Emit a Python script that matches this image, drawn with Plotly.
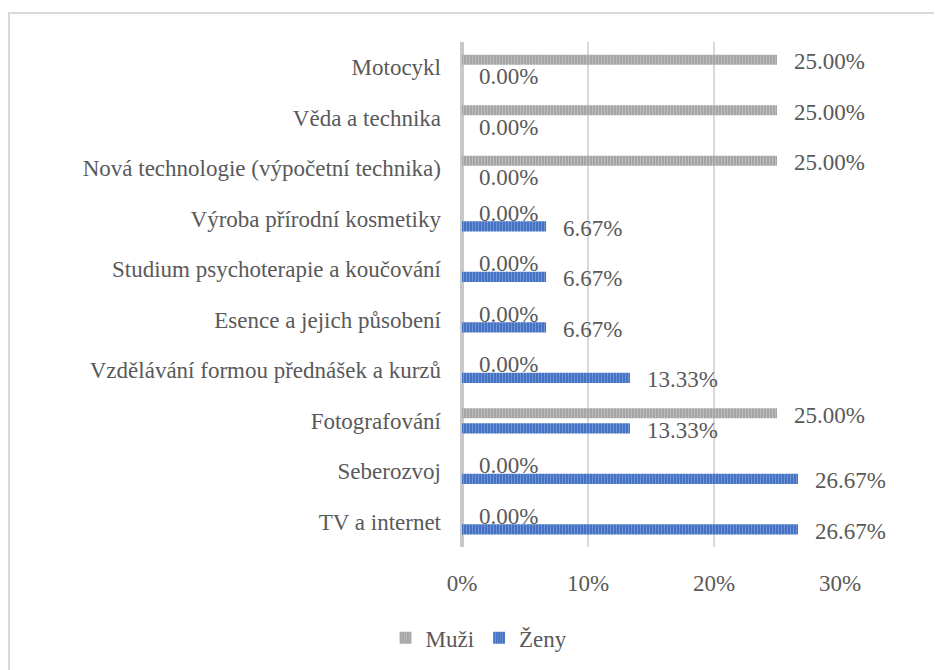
import plotly.graph_objects as go

categories = ["TV a internet", "Seberozvoj", "Fotografování",
              "Vzdělávání formou přednášek a kurzů", "Esence a jejich působení",
              "Studium psychoterapie a koučování", "Výroba přírodní kosmetiky",
              "Nová technologie (výpočetní technika)", "Věda a technika", "Motocykl"]
muzi = [0.00, 0.00, 25.00, 0.00, 0.00, 0.00, 0.00, 25.00, 25.00, 25.00]
zeny = [26.67, 26.67, 13.33, 13.33, 6.67, 6.67, 6.67, 0.00, 0.00, 0.00]
x_ticks = [0, 10, 20, 30]
x_tick_labels = ["0%", "10%", "20%", "30%"]

FONT = "Liberation Serif"
FS = 23
TXT = "#595959"
pos = list(range(len(categories)))

fig = go.Figure()
fig.add_trace(go.Bar(
    name="Muži", y=pos, x=muzi, orientation="h", width=0.2, offset=0.05,
    marker=dict(color="#A5A5A5", line=dict(width=0),
                pattern=dict(shape="|", fgcolor="#D6D6D6", bgcolor="#A5A5A5",
                             size=3, solidity=0.35)),
))
fig.add_trace(go.Bar(
    name="Ženy", y=pos, x=zeny, orientation="h", width=0.2, offset=-0.25,
    marker=dict(color="#4472C4", line=dict(width=0),
                pattern=dict(shape="|", fgcolor="#9BB3E0", bgcolor="#4472C4",
                             size=3, solidity=0.35)),
))

annotations = []
for i, (m, z) in enumerate(zip(muzi, zeny)):
    annotations.append(dict(x=m, y=i + 0.15, xref="x", yref="y", text=f"{m:.2f}%",
                            showarrow=False, xanchor="left", xshift=15, yshift=-2,
                            font=dict(family=FONT, size=FS, color=TXT)))
    annotations.append(dict(x=z, y=i - 0.15, xref="x", yref="y", text=f"{z:.2f}%",
                            showarrow=False, xanchor="left", xshift=15, yshift=-2,
                            font=dict(family=FONT, size=FS, color=TXT)))

# page has an 8px body margin; figure coordinates are page coordinates minus 8
fig.update_layout(
    width=934, height=662,
    margin=dict(l=454, r=102, t=34, b=122),
    paper_bgcolor="white", plot_bgcolor="white",
    barmode="overlay",
    font=dict(family=FONT, size=FS, color=TXT),
    annotations=annotations,
    showlegend=True,
    legend=dict(orientation="h", x=0.045, xanchor="center", y=-0.135, yanchor="top",
                font=dict(family=FONT, size=FS, color=TXT), itemwidth=30,
                traceorder="normal"),
    xaxis=dict(range=[0, 30], tickvals=x_ticks, ticktext=x_tick_labels,
               showgrid=True, gridcolor="#D9D9D9", gridwidth=2,
               zeroline=True, zerolinecolor="#C8C8C8", zerolinewidth=4,
               showline=False, ticklabelstandoff=20, fixedrange=True),
    yaxis=dict(range=[-0.5, 9.5], tickvals=pos, ticktext=categories,
               showgrid=False, zeroline=False, showline=False,
               ticklabelstandoff=20, fixedrange=True),
    shapes=[dict(type="rect", xref="paper", yref="paper",
                 x0=(9 - 462) / 378, x1=(960 - 462) / 378,
                 y0=(548 - 700) / 506, y1=(548 - 13) / 506,
                 line=dict(color="#D9D9D9", width=2), fillcolor="rgba(0,0,0,0)",
                 layer="below")],
)

fig.write_html("out.html")
